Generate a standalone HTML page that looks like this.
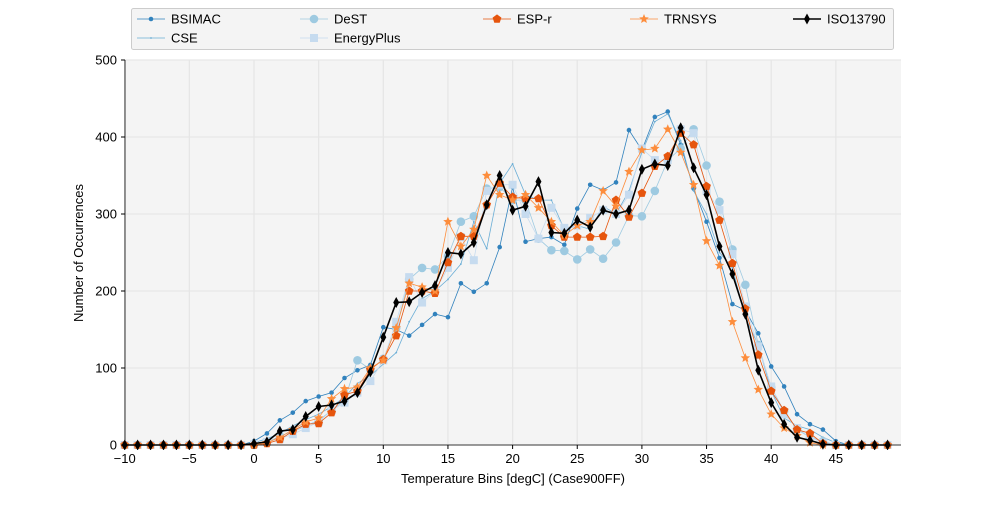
<!DOCTYPE html>
<html><head><meta charset="utf-8"><style>
body{margin:0;background:#fff;font-family:"Liberation Sans","DejaVu Sans",sans-serif;}
svg text{font-family:"Liberation Sans","DejaVu Sans",sans-serif;font-size:13px;fill:#000}
</style></head><body>
<svg id="s" width="1000" height="500" xmlns="http://www.w3.org/2000/svg"></svg>
<script>
const S=document.getElementById('s');
const X=x=>254+x*12.93, Y=v=>445-v*0.77;
let h='';
h+='<rect x="125" y="60" width="776" height="385" fill="#f4f4f4"/>';
for(let x=-10;x<=45;x+=5){h+=`<line x1="${X(x)}" y1="60" x2="${X(x)}" y2="445" stroke="#e6e6e6" stroke-width="1.3"/>`;}
for(let v=0;v<=500;v+=100){h+=`<line x1="125" y1="${Y(v)}" x2="901" y2="${Y(v)}" stroke="#e6e6e6" stroke-width="1.3"/>`;}
function arr(obj){const a=[];for(let x=-10;x<=49;x++)a.push([x,obj[x]||0]);return a;}
function L(list){const o={};list.forEach((v,i)=>o[i]=v);return o;}
const iso=L([2,4,18,20,37,50,52,57,68,95,140,185,186,198,207,250,248,263,312,350,305,310,342,276,275,292,283,305,300,305,358,365,363,412,360,325,258,222,170,97,55,27,10,6,1]);
const esp=L([0,2,7,18,27,28,42,65,70,98,111,142,200,200,197,237,271,271,312,340,322,320,320,285,270,270,270,271,318,296,327,362,375,405,390,336,292,236,177,117,70,45,20,15,2]);
const trn=L([0,3,10,20,30,35,60,73,75,100,110,152,210,205,200,290,258,280,350,325,318,325,308,290,272,285,290,330,310,355,383,385,410,380,338,265,233,160,113,72,40,22,12,3]);
const bsi=L([5,15,32,42,57,63,68,87,97,104,153,150,142,156,170,166,210,199,210,257,335,264,268,270,260,307,338,331,341,409,383,426,433,390,333,290,243,183,175,145,102,76,40,27,20,5]);
const dest=L([0,3,12,17,25,32,45,58,110,98,112,152,215,230,228,245,290,297,333,335,318,318,268,253,252,241,254,242,263,298,297,330,370,385,410,363,316,254,208,130,75,44,20,10,5]);
const cse=L([3,8,15,25,33,40,50,62,80,90,105,120,160,190,200,215,235,290,255,340,365,325,318,318,280,285,280,310,300,330,380,420,430,395,330,300,250,230,165,130,70,35,25,20,10,3]);
const ep=L([1,4,8,14,22,30,45,55,68,83,110,160,218,185,200,230,270,240,330,338,338,300,268,308,282,285,295,305,300,325,385,370,370,410,405,330,305,248,180,128,76,40,22,10,3]);
function star(cx,cy,r,c){let p='';for(let i=0;i<10;i++){const a=-Math.PI/2+i*Math.PI/5,rr=i%2?r*0.45:r;p+=(cx+rr*Math.cos(a)).toFixed(1)+','+(cy+rr*Math.sin(a)).toFixed(1)+' ';}return `<polygon points="${p}" fill="${c}"/>`;}
function pent(cx,cy,r,c){let p='';for(let i=0;i<5;i++){const a=-Math.PI/2+i*2*Math.PI/5;p+=(cx+r*Math.cos(a)).toFixed(1)+','+(cy+r*Math.sin(a)).toFixed(1)+' ';}return `<polygon points="${p}" fill="${c}"/>`;}
function mk(t,cx,cy,c){
 if(t=='o')return `<circle cx="${cx}" cy="${cy}" r="2.3" fill="${c}"/>`;
 if(t=='O')return `<circle cx="${cx}" cy="${cy}" r="4.3" fill="${c}"/>`;
 if(t=='.')return `<circle cx="${cx}" cy="${cy}" r="0.9" fill="${c}"/>`;
 if(t=='s')return `<rect x="${cx-4}" y="${cy-4}" width="8" height="8" fill="${c}"/>`;
 if(t=='p')return pent(cx,cy,4.6,c);
 if(t=='*')return star(cx,cy,5,c);
 if(t=='d')return `<polygon points="${cx},${cy-5.5} ${cx+3},${cy} ${cx},${cy+5.5} ${cx-3},${cy}" fill="${c}"/>`;
}
const ser=[[bsi,'#3182bd',0.8,'o','BSIMAC'],[cse,'#6baed6',0.8,'.','CSE'],[dest,'#9ecae1',0.8,'O','DeST'],[ep,'#c6dbef',0.8,'s','EnergyPlus'],[esp,'#e6550d',0.8,'p','ESP-r'],[trn,'#fd8d3c',0.8,'*','TRNSYS'],[iso,'#000',1.6,'d','ISO13790']];
h+='<svg x="0" y="0" width="1000" height="500"><defs><clipPath id="c"><rect x="120" y="55" width="781" height="395"/></clipPath></defs><g clip-path="url(#c)">';
ser.forEach(([d,c,w,m])=>{const a=arr(Object.fromEntries(Object.entries(d).map(([k,v])=>[k,v])));
 h+=`<polyline fill="none" stroke="${c}" stroke-width="${w}" points="${a.map(p=>X(p[0]).toFixed(1)+','+Y(p[1]).toFixed(1)).join(' ')}"/>`;
 a.forEach(p=>h+=mk(m,X(p[0]),Y(p[1]),c));});
h+='</g></svg>';
h+='<line x1="125" y1="445" x2="901" y2="445" stroke="#000" stroke-width="0.8"/><line x1="125" y1="60" x2="125" y2="445" stroke="#000" stroke-width="0.8"/>';
for(let x=-10;x<=45;x+=5){h+=`<line x1="${X(x)}" y1="445" x2="${X(x)}" y2="449" stroke="#000"/><text x="${X(x)}" y="463" text-anchor="middle">${x<0?'−'+(-x):x}</text>`;}
for(let v=0;v<=500;v+=100){h+=`<line x1="121" y1="${Y(v)}" x2="125" y2="${Y(v)}" stroke="#000"/><text x="117" y="${Y(v)+4.5}" text-anchor="end">${v}</text>`;}
h+='<text x="513" y="483" text-anchor="middle">Temperature Bins [degC] (Case900FF)</text>';
h+='<text transform="translate(83,253) rotate(-90)" text-anchor="middle">Number of Occurrences</text>';
h+='<rect x="131.5" y="8.5" width="762" height="41" rx="2" fill="#f4f4f4" stroke="#ccc"/>';
const pos=[[137,19],[137,38],[300,19],[300,38],[483,19],[630,19],[793,19]];
ser.forEach(([d,c,w,m,n],i)=>{const [x,y]=pos[i];h+=`<line x1="${x}" y1="${y}" x2="${x+28}" y2="${y}" stroke="${c}" stroke-width="${w}"/>`+mk(m,x+14,y,c)+`<text x="${x+34}" y="${y+4.5}">${n}</text>`;});
S.innerHTML=h;
</script>
</body></html>
